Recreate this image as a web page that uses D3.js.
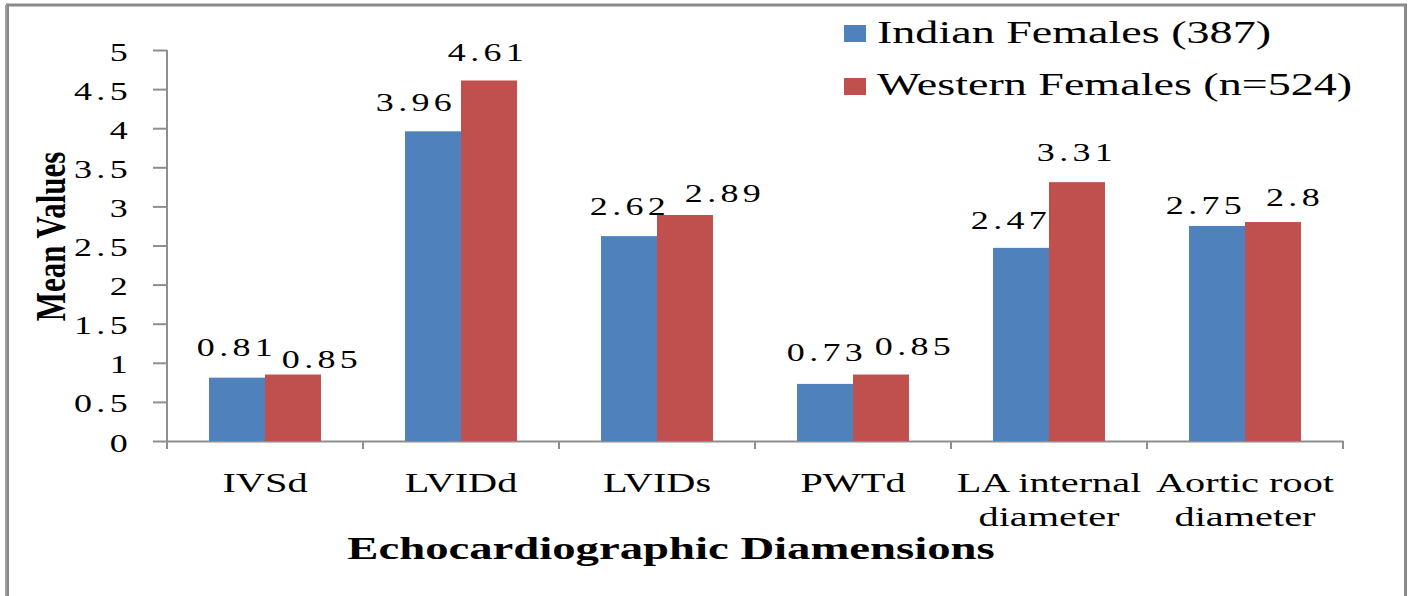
<!DOCTYPE html>
<html>
<head>
<meta charset="utf-8">
<script src="https://cdn.jsdelivr.net/npm/d3@7"></script>
<style>
  html, body { margin: 0; padding: 0; background: #ffffff; }
  svg { display: block; }
  text { font-family: "Liberation Serif", "Times New Roman", serif; fill: #000; }
</style>
</head>
<body>
<svg id="chart" width="1410" height="596"></svg>
<script>
// ---- data ----
const categories = ["IVSd", "LVIDd", "LVIDs", "PWTd", "LA internal diameter", "Aortic root diameter"];
const categoryLabels = [["IVSd"], ["LVIDd"], ["LVIDs"], ["PWTd"], ["LA internal", "diameter"], ["Aortic root", "diameter"]];
const seriesNames = ["Indian Females (387)", "Western Females (n=524)"];
const indianValues = [0.81, 3.96, 2.62, 0.73, 2.47, 2.75];
const westernValues = [0.85, 4.61, 2.89, 0.85, 3.31, 2.8];
const indianLabels = ["0.81", "3.96", "2.62", "0.73", "2.47", "2.75"];
const westernLabels = ["0.85", "4.61", "2.89", "0.85", "3.31", "2.8"];
const yTicks = [0, 0.5, 1, 1.5, 2, 2.5, 3, 3.5, 4, 4.5, 5];
const yTickLabels = ["0", "0.5", "1", "1.5", "2", "2.5", "3", "3.5", "4", "4.5", "5"];
const yTitle = "Mean Values";
const xTitle = "Echocardiographic Diamensions";

// manual label nudges (layout only)
const indianLabelDx = [-2, -19, -1, 0, -12, -13];
const indianLabelDy = [-3, -1, -2, -4, 0, 7];
const westernLabelDx = [27, -3, 38, 32, -2, 20];
const westernLabelDy = [12, 0, 6, -1, -2, 3];

const colors = ["#4F81BD", "#C0504D"];
const SX = 1.44;

const svg = d3.select("#chart");

// frame
svg.append("path")
  .attr("d", "M7.5,600 L7.5,5 L1405.5,5 L1405.5,600")
  .attr("fill", "none").attr("stroke", "#8a8a8a").attr("stroke-width", 3);
svg.append("line").attr("x1", 6).attr("x2", 6).attr("y1", 5).attr("y2", 600)
  .attr("stroke", "#a0a0a0").attr("stroke-width", 2);

const plotLeft = 167, plotRight = 1343, plotTop = 50, plotBottom = 441;

const y = d3.scaleLinear().domain([0, 5]).range([plotBottom, plotTop]);
const x0 = d3.scaleBand().domain(categories).range([plotLeft, plotRight]).paddingInner(0).paddingOuter(0);
const x1 = d3.scaleBand().domain(seriesNames).range([0, x0.bandwidth()]).paddingInner(0).paddingOuter(0.75);

function stext(g, x, yy, str, o) {
  o = o || {};
  const t = g.append("text")
    .attr("transform", `translate(${x},${yy}) scale(${o.sx || SX},1)`)
    .attr("text-anchor", o.anchor || "start")
    .style("font-size", (o.size || 25) + "px")
    .style("font-weight", o.bold ? "bold" : "normal")
    .text(str);
  if (o.ls) t.style("letter-spacing", o.ls + "px");
  return t;
}

// y axis
const yAxis = d3.axisLeft(y).tickValues(yTicks).tickSize(14).tickSizeOuter(0)
  .tickFormat((d, i) => yTickLabels[i]);
const gy = svg.append("g").attr("transform", `translate(${plotLeft},0)`).call(yAxis);
gy.select(".domain").attr("stroke", "#8e8e8e").attr("stroke-width", 2)
  .attr("d", `M0,${plotTop}V${plotBottom + 8}`);
gy.selectAll(".tick line").attr("stroke", "#8e8e8e").attr("stroke-width", 2);
gy.selectAll(".tick text")
  .attr("x", null).attr("dy", null)
  .attr("transform", `translate(-35,10) scale(${SX},1)`)
  .attr("text-anchor", "end")
  .attr("fill", "#000")
  .style("font-family", '"Liberation Serif", "Times New Roman", serif')
  .style("font-size", "25px")
  .style("letter-spacing", "3px");

// x axis line
const xAxis = d3.axisBottom(x0).tickSize(0).tickSizeOuter(0).tickFormat("");
const gx = svg.append("g").attr("transform", `translate(0,${plotBottom})`).call(xAxis);
gx.select(".domain").attr("stroke", "#8e8e8e").attr("stroke-width", 2);
// boundary ticks
const bounds = categories.map(c => x0(c)).concat([x0.range()[1]]);
svg.append("g").selectAll("line").data(bounds).join("line")
  .attr("x1", d => d).attr("x2", d => d)
  .attr("y1", plotBottom).attr("y2", plotBottom + 8)
  .attr("stroke", "#8e8e8e").attr("stroke-width", 2);

// bars
const seriesVals = [indianValues, westernValues];
const seriesLbls = [indianLabels, westernLabels];
const seriesDx = [indianLabelDx, westernLabelDx];
const seriesDy = [indianLabelDy, westernLabelDy];
seriesNames.forEach((s, si) => {
  const g = svg.append("g");
  g.selectAll("rect").data(categories).join("rect")
    .attr("x", c => x0(c) + x1(s))
    .attr("y", (c, i) => y(seriesVals[si][i]))
    .attr("width", x1.bandwidth())
    .attr("height", (c, i) => y(0) - y(seriesVals[si][i]))
    .attr("fill", colors[si]);
});
// data labels
const lg = svg.append("g");
seriesNames.forEach((s, si) => {
  categories.forEach((c, i) => {
    const cx = x0(c) + x1(s) + x1.bandwidth() / 2 + seriesDx[si][i] + 2;
    const by = y(seriesVals[si][i]) - 19 + seriesDy[si][i];
    stext(lg, cx, by, seriesLbls[si][i], { anchor: "middle", size: 25, ls: 3 });
  });
});

// category labels
const cg = svg.append("g");
categories.forEach((c, i) => {
  categoryLabels[i].forEach((line, li) => {
    stext(cg, x0(c) + x0.bandwidth() / 2, 492 + li * 34, line, { anchor: "middle", size: 28 });
  });
});

// axis titles
stext(svg, 671, 559, xTitle, { anchor: "middle", size: 32, bold: true, sx: 1.46 });
svg.append("text")
  .attr("transform", `translate(65,236.5) rotate(-90) scale(1,1.38)`)
  .attr("text-anchor", "middle")
  .style("font-size", "31px").style("font-weight", "bold")
  .text(yTitle);

// legend
const legY = [43, 95];
const swY = [25, 78];
const leg = svg.append("g");
seriesNames.forEach((s, si) => {
  leg.append("rect").attr("x", 844).attr("y", swY[si]).attr("width", 22).attr("height", 17)
    .attr("fill", colors[si]);
  stext(leg, 877, legY[si], s, { size: 32 });
});
</script>
</body>
</html>
